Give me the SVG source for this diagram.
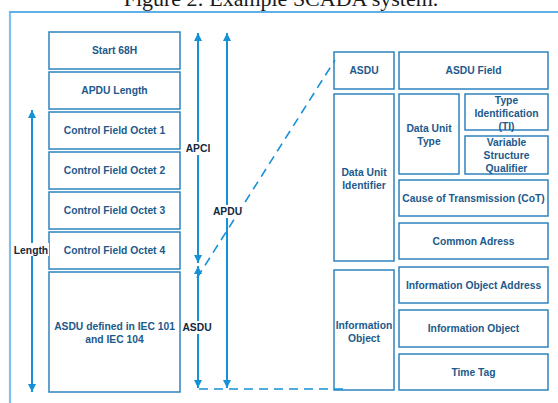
<svg xmlns="http://www.w3.org/2000/svg" width="558" height="403" viewBox="0 0 558 403">
  <defs>
    <style>
      .box { fill: #ffffff; stroke: #2f83bf; stroke-width: 1.5; }
      .t { font-family: "Liberation Sans", Arial, sans-serif; font-weight: bold; font-size: 10.3px; fill: #1c5a8c; text-anchor: middle; }
      .lbl { font-family: "Liberation Sans", Arial, sans-serif; font-weight: bold; font-size: 10.3px; fill: #14283d; text-anchor: middle; }
      .arr { stroke: #1591d8; stroke-width: 2; fill: none; }
      .dash { stroke: #1591d8; stroke-width: 1.6; fill: none; stroke-dasharray: 9 6; }
      .cap { font-family: "Liberation Serif", "Times New Roman", serif; font-size: 22px; fill: #1a1a1a; text-anchor: middle; }
    </style>
    <marker id="ah" viewBox="0 0 10 10" refX="10" refY="5" markerWidth="4" markerHeight="4" orient="auto-start-reverse" markerUnits="strokeWidth">
      <path d="M0,0 L10,5 L0,10 Z" fill="#1591d8"/>
    </marker>
  </defs>

  <rect width="558" height="403" fill="#ffffff"/>

  <!-- caption and frame -->
  <text class="cap" x="281" y="6">Figure 2: Example SCADA system.</text>
  <path d="M10,403 V12 H558" fill="none" stroke="#7fc1ec" stroke-width="2.2"/>
  <path d="M9,12 H558" fill="none" stroke="#3f9fe0" stroke-width="1"/>

  <!-- APDU frame stack -->
  <g id="start68h"><rect class="box" x="49" y="32" width="131" height="37"/><text class="t" x="114.5" y="54">Start 68H</text></g>
  <g id="apduLength"><rect class="box" x="49" y="72" width="131" height="37"/><text class="t" x="114.5" y="94">APDU Length</text></g>
  <g id="cfo1"><rect class="box" x="49" y="112" width="131" height="37"/><text class="t" x="114.5" y="134">Control Field Octet 1</text></g>
  <g id="cfo2"><rect class="box" x="49" y="152" width="131" height="37"/><text class="t" x="114.5" y="174">Control Field Octet 2</text></g>
  <g id="cfo3"><rect class="box" x="49" y="192" width="131" height="37"/><text class="t" x="114.5" y="214">Control Field Octet 3</text></g>
  <g id="cfo4"><rect class="box" x="49" y="232" width="131" height="37"/><text class="t" x="114.5" y="254">Control Field Octet 4</text></g>
  <g id="asduDefined"><rect class="box" x="49" y="272" width="131" height="120"/>
    <text class="t" x="114.5" y="330">ASDU defined in IEC 101</text>
    <text class="t" x="114.5" y="343">and IEC 104</text></g>

  <!-- ASDU structure -->
  <g id="asdu"><rect class="box" x="334" y="52" width="60" height="37"/><text class="t" x="364" y="74">ASDU</text></g>
  <g id="asduField"><rect class="box" x="399" y="52" width="149" height="37"/><text class="t" x="473.5" y="74">ASDU Field</text></g>
  <g id="dataUnitIdentifier"><rect class="box" x="334" y="94" width="60" height="167"/>
    <text class="t" x="364" y="175.5">Data Unit</text><text class="t" x="364" y="188.5">Identifier</text></g>
  <g id="dataUnitType"><rect class="box" x="399" y="94" width="60" height="80"/>
    <text class="t" x="429" y="131.5">Data Unit</text><text class="t" x="429" y="145">Type</text></g>
  <g id="typeId"><rect class="box" x="465" y="94" width="83" height="36"/>
    <text class="t" x="506.5" y="104">Type</text><text class="t" x="506.5" y="117">Identification</text><text class="t" x="506.5" y="130">(TI)</text></g>
  <g id="vsq"><rect class="box" x="465" y="136" width="83" height="38"/>
    <text class="t" x="506.5" y="145.5">Variable</text><text class="t" x="506.5" y="159">Structure</text><text class="t" x="506.5" y="172">Qualifier</text></g>
  <g id="cot"><rect class="box" x="399" y="180" width="149" height="36"/><text class="t" x="473.5" y="201.7">Cause of Transmission (CoT)</text></g>
  <g id="commonAdress"><rect class="box" x="399" y="223" width="149" height="36"/><text class="t" x="473.5" y="244.7">Common Adress</text></g>
  <g id="informationObjectGroup"><rect class="box" x="334" y="270" width="60" height="120"/>
    <text class="t" x="364" y="328.5">Information</text><text class="t" x="364" y="341.5">Object</text></g>
  <g id="ioa"><rect class="box" x="399" y="267" width="149" height="36"/><text class="t" x="473.5" y="288.7">Information Object Address</text></g>
  <g id="informationObject"><rect class="box" x="399" y="310" width="149" height="37"/><text class="t" x="473.5" y="332">Information Object</text></g>
  <g id="timeTag"><rect class="box" x="399" y="354" width="149" height="36"/><text class="t" x="473.5" y="375.7">Time Tag</text></g>

  <!-- connectors -->
  <g id="connectors">
    <line class="arr" x1="32" y1="392" x2="32" y2="110" marker-start="url(#ah)" marker-end="url(#ah)"/>
    <line class="arr" x1="198" y1="263" x2="198" y2="33" marker-start="url(#ah)" marker-end="url(#ah)"/>
    <line class="arr" x1="198" y1="388" x2="198" y2="266" marker-start="url(#ah)" marker-end="url(#ah)"/>
    <line class="arr" x1="227" y1="388" x2="227" y2="33" marker-start="url(#ah)" marker-end="url(#ah)"/>
    <line class="dash" x1="197" y1="278" x2="335" y2="60"/>
    <line class="dash" x1="199" y1="389" x2="348" y2="389"/>

    <rect x="14" y="243" width="35" height="13" fill="#ffffff"/>
    <text class="lbl" x="31" y="254">Length</text>
    <rect x="185" y="142" width="26" height="13" fill="#ffffff"/>
    <text class="lbl" x="198" y="152">APCI</text>
    <rect x="213" y="205" width="29" height="13" fill="#ffffff"/>
    <text class="lbl" x="227.5" y="215">APDU</text>
    <rect x="183" y="321" width="29" height="13" fill="#ffffff"/>
    <text class="lbl" x="197" y="331">ASDU</text>
  </g>
</svg>
